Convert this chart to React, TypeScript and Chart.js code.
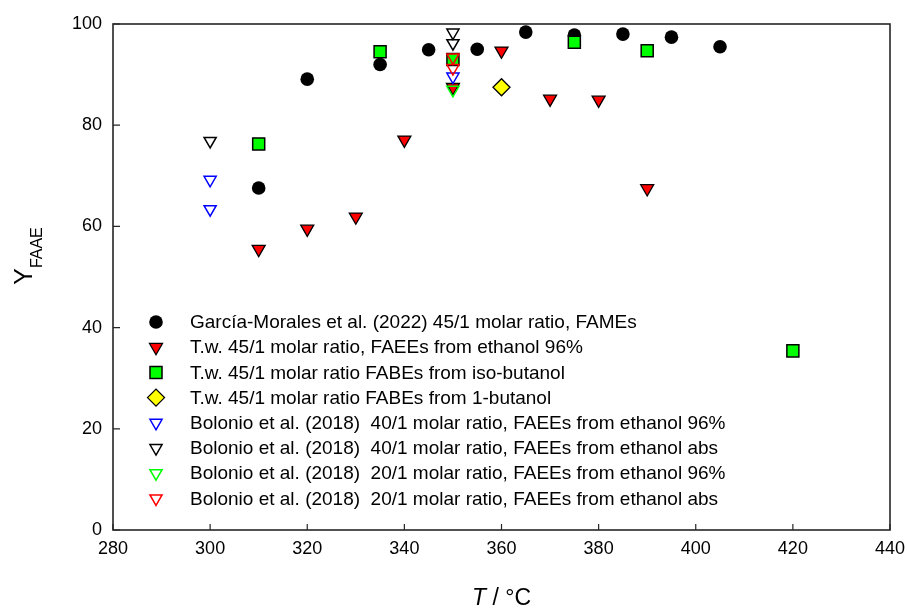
import React, { useEffect, useRef } from "react";
import { Chart, registerables } from "chart.js";

Chart.register(...registerables);

// ---- data ----
const garciaT = [310, 320, 335, 345, 355, 365, 375, 385, 395, 405];
const garciaY = [67.6, 89.1, 92.0, 94.9, 95.0, 98.4, 97.8, 98.0, 97.4, 95.5];

const twEthanolT = [310, 320, 330, 340, 350, 360, 370, 380, 390];
const twEthanolY = [55.5, 59.5, 61.9, 77.1, 87.5, 94.7, 85.2, 85.0, 67.5];

const twIsoButanolT = [310, 335, 350, 375, 390, 420];
const twIsoButanolY = [76.3, 94.5, 93.0, 96.4, 94.7, 35.4];

const twButanolT = [360];
const twButanolY = [87.5];

const bol40w96T = [300, 300, 350];
const bol40w96Y = [69.2, 63.4, 89.6];

const bol40absT = [300, 350, 350];
const bol40absY = [76.9, 98.3, 96.2];

const bol20w96T = [350];
const bol20w96Y = [87.0];

const bol20absT = [350, 350];
const bol20absY = [93.4, 91.3];

const legendLabels = [
  "García-Morales et al. (2022) 45/1 molar ratio, FAMEs",
  "T.w. 45/1 molar ratio, FAEEs from ethanol 96%",
  "T.w. 45/1 molar ratio FABEs from iso-butanol",
  "T.w. 45/1 molar ratio FABEs from 1-butanol",
  "Bolonio et al. (2018)  40/1 molar ratio, FAEEs from ethanol 96%",
  "Bolonio et al. (2018)  40/1 molar ratio, FAEEs from ethanol abs",
  "Bolonio et al. (2018)  20/1 molar ratio, FAEEs from ethanol 96%",
  "Bolonio et al. (2018)  20/1 molar ratio, FAEEs from ethanol abs",
];

const xMin = 280;
const xMax = 440;
const xStep = 20;
const yMin = 0;
const yMax = 100;
const yStep = 20;

const FONT = '"Liberation Sans", Arial, sans-serif';

const pts = (xs: number[], ys: number[]) => xs.map((x, i) => ({ x, y: ys[i] }));

type Mk = {
  style: string;
  radius: number;
  fill: string;
  stroke: string;
  lw: number;
  rot: number;
};

const markers: Mk[] = [
  { style: "circle", radius: 6.8, fill: "#000000", stroke: "#000000", lw: 0, rot: 0 },
  { style: "triangle", radius: 7.5, fill: "#ff0000", stroke: "#000000", lw: 1.3, rot: 180 },
  { style: "rect", radius: 8.5, fill: "#00ff00", stroke: "#000000", lw: 1.5, rot: 0 },
  { style: "rectRot", radius: 8.5, fill: "#ffff00", stroke: "#000000", lw: 1.3, rot: 0 },
  { style: "triangle", radius: 7, fill: "rgba(0,0,0,0)", stroke: "#0000ff", lw: 1.5, rot: 180 },
  { style: "triangle", radius: 7, fill: "rgba(0,0,0,0)", stroke: "#000000", lw: 1.5, rot: 180 },
  { style: "triangle", radius: 7, fill: "rgba(0,0,0,0)", stroke: "#00ff00", lw: 1.5, rot: 180 },
  { style: "triangle", radius: 7, fill: "rgba(0,0,0,0)", stroke: "#ff0000", lw: 1.5, rot: 180 },
];

const seriesData = [
  pts(garciaT, garciaY),
  pts(twEthanolT, twEthanolY),
  pts(twIsoButanolT, twIsoButanolY),
  pts(twButanolT, twButanolY),
  pts(bol40w96T, bol40w96Y),
  pts(bol40absT, bol40absY),
  pts(bol20w96T, bol20w96Y),
  pts(bol20absT, bol20absY),
];

const drawOrder = [8, 7, 6, 5, 4, 3, 1, 2];

function drawMarker(ctx: CanvasRenderingContext2D, m: Mk, x: number, y: number) {
  ctx.save();
  ctx.beginPath();
  const r = m.radius;
  if (m.style === "circle") {
    ctx.arc(x, y, r, 0, Math.PI * 2);
  } else if (m.style === "triangle") {
    const s = m.rot === 180 ? -1 : 1;
    ctx.moveTo(x, y - s * r);
    ctx.lineTo(x + r * Math.sin((2 * Math.PI) / 3), y + s * r * 0.5);
    ctx.lineTo(x - r * Math.sin((2 * Math.PI) / 3), y + s * r * 0.5);
  } else if (m.style === "rect") {
    const h = r * Math.SQRT1_2;
    ctx.rect(x - h, y - h, 2 * h, 2 * h);
  } else if (m.style === "rectRot") {
    ctx.moveTo(x - r, y);
    ctx.lineTo(x, y - r);
    ctx.lineTo(x + r, y);
    ctx.lineTo(x, y + r);
  }
  ctx.closePath();
  ctx.fillStyle = m.fill;
  ctx.fill();
  if (m.lw > 0) {
    ctx.lineWidth = m.lw;
    ctx.strokeStyle = m.stroke;
    ctx.stroke();
  }
  ctx.restore();
}

const framePlugin = {
  id: "frameAndDecor",
  afterDraw(chart: any) {
    const { ctx, chartArea: ca, scales } = chart;
    ctx.save();
    // box
    ctx.strokeStyle = "#262626";
    ctx.lineWidth = 1.6;
    ctx.strokeRect(ca.left, ca.top, ca.right - ca.left, ca.bottom - ca.top);
    // inward ticks
    ctx.lineWidth = 1.2;
    ctx.beginPath();
    for (const t of scales.x.ticks) {
      const px = scales.x.getPixelForValue(t.value);
      ctx.moveTo(px, ca.bottom);
      ctx.lineTo(px, ca.bottom - 6);
    }
    for (const t of scales.y.ticks) {
      const py = scales.y.getPixelForValue(t.value);
      ctx.moveTo(ca.left, py);
      ctx.lineTo(ca.left + 7, py);
    }
    ctx.stroke();

    // x title: "T / °C"
    ctx.fillStyle = "#000";
    ctx.textBaseline = "alphabetic";
    ctx.textAlign = "left";
    const cx = (ca.left + ca.right) / 2;
    ctx.font = `italic 23px ${FONT}`;
    const wT = ctx.measureText("T").width;
    ctx.font = `23px ${FONT}`;
    const rest = " / °C";
    const wR = ctx.measureText(rest).width;
    const sx = cx - (wT + wR) / 2;
    ctx.font = `italic 23px ${FONT}`;
    ctx.fillText("T", sx, 605);
    ctx.font = `23px ${FONT}`;
    ctx.fillText(rest, sx + wT, 605);

    // y title: Y_FAAE
    ctx.save();
    ctx.translate(32, 256);
    ctx.rotate(-Math.PI / 2);
    ctx.font = `25px ${FONT}`;
    const wY = ctx.measureText("Y").width;
    ctx.font = `16px ${FONT}`;
    const wS = ctx.measureText("FAAE").width;
    const start = -(wY + wS) / 2;
    ctx.font = `25px ${FONT}`;
    ctx.fillText("Y", start, 0);
    ctx.font = `16px ${FONT}`;
    ctx.fillText("FAAE", start + wY, 10);
    ctx.restore();

    // legend
    const mx = ca.left + 43;
    const tx = ca.left + 77;
    const y0 = ca.bottom - 208;
    const dy = 25.2;
    ctx.font = `19px ${FONT}`;
    ctx.textBaseline = "middle";
    legendLabels.forEach((lab, i) => {
      const y = y0 + i * dy;
      drawMarker(ctx, markers[i], mx, y);
      ctx.fillStyle = "#000";
      ctx.fillText(lab, tx, y + 1);
    });
    ctx.restore();
  },
};

export default function App() {
  const ref = useRef<HTMLCanvasElement | null>(null);
  useEffect(() => {
    if (!ref.current) return;
    const chart = new Chart(ref.current, {
      type: "scatter",
      data: {
        datasets: seriesData.map((d, i) => ({
          label: legendLabels[i],
          data: d,
          order: drawOrder[i],
          showLine: false,
          pointStyle: markers[i].style as any,
          pointRadius: markers[i].radius,
          pointHoverRadius: markers[i].radius,
          pointRotation: markers[i].rot,
          backgroundColor: markers[i].fill,
          borderColor: markers[i].stroke,
          pointBorderWidth: markers[i].lw,
          borderWidth: markers[i].lw,
        })),
      },
      options: {
        responsive: false,
        animation: false,
        events: [],
        layout: { padding: { left: 0, top: 24, right: 18, bottom: 0 } },
        plugins: { legend: { display: false }, tooltip: { enabled: false } },
        scales: {
          x: {
            type: "linear",
            min: xMin,
            max: xMax,
            afterFit: (s: any) => {
              s.height = 78;
              s.paddingLeft = 0;
              s.paddingRight = 0;
            },
            ticks: {
              stepSize: xStep,
              padding: 8,
              color: "#000",
              font: { family: FONT, size: 18 },
            },
            grid: { display: false, drawTicks: false },
            border: { display: false },
          },
          y: {
            type: "linear",
            min: yMin,
            max: yMax,
            afterFit: (s: any) => {
              s.width = 113;
              s.paddingTop = 0;
              s.paddingBottom = 0;
            },
            ticks: {
              stepSize: yStep,
              padding: 11,
              color: "#000",
              font: { family: FONT, size: 18 },
            },
            grid: { display: false, drawTicks: false },
            border: { display: false },
          },
        },
      },
      plugins: [framePlugin],
    });
    return () => chart.destroy();
  }, []);
  return (
    <div style={{ position: "fixed", left: 0, top: 0, width: 908, height: 608, background: "#fff" }}>
      <canvas ref={ref} width={908} height={608} style={{ display: "block" }} />
    </div>
  );
}
